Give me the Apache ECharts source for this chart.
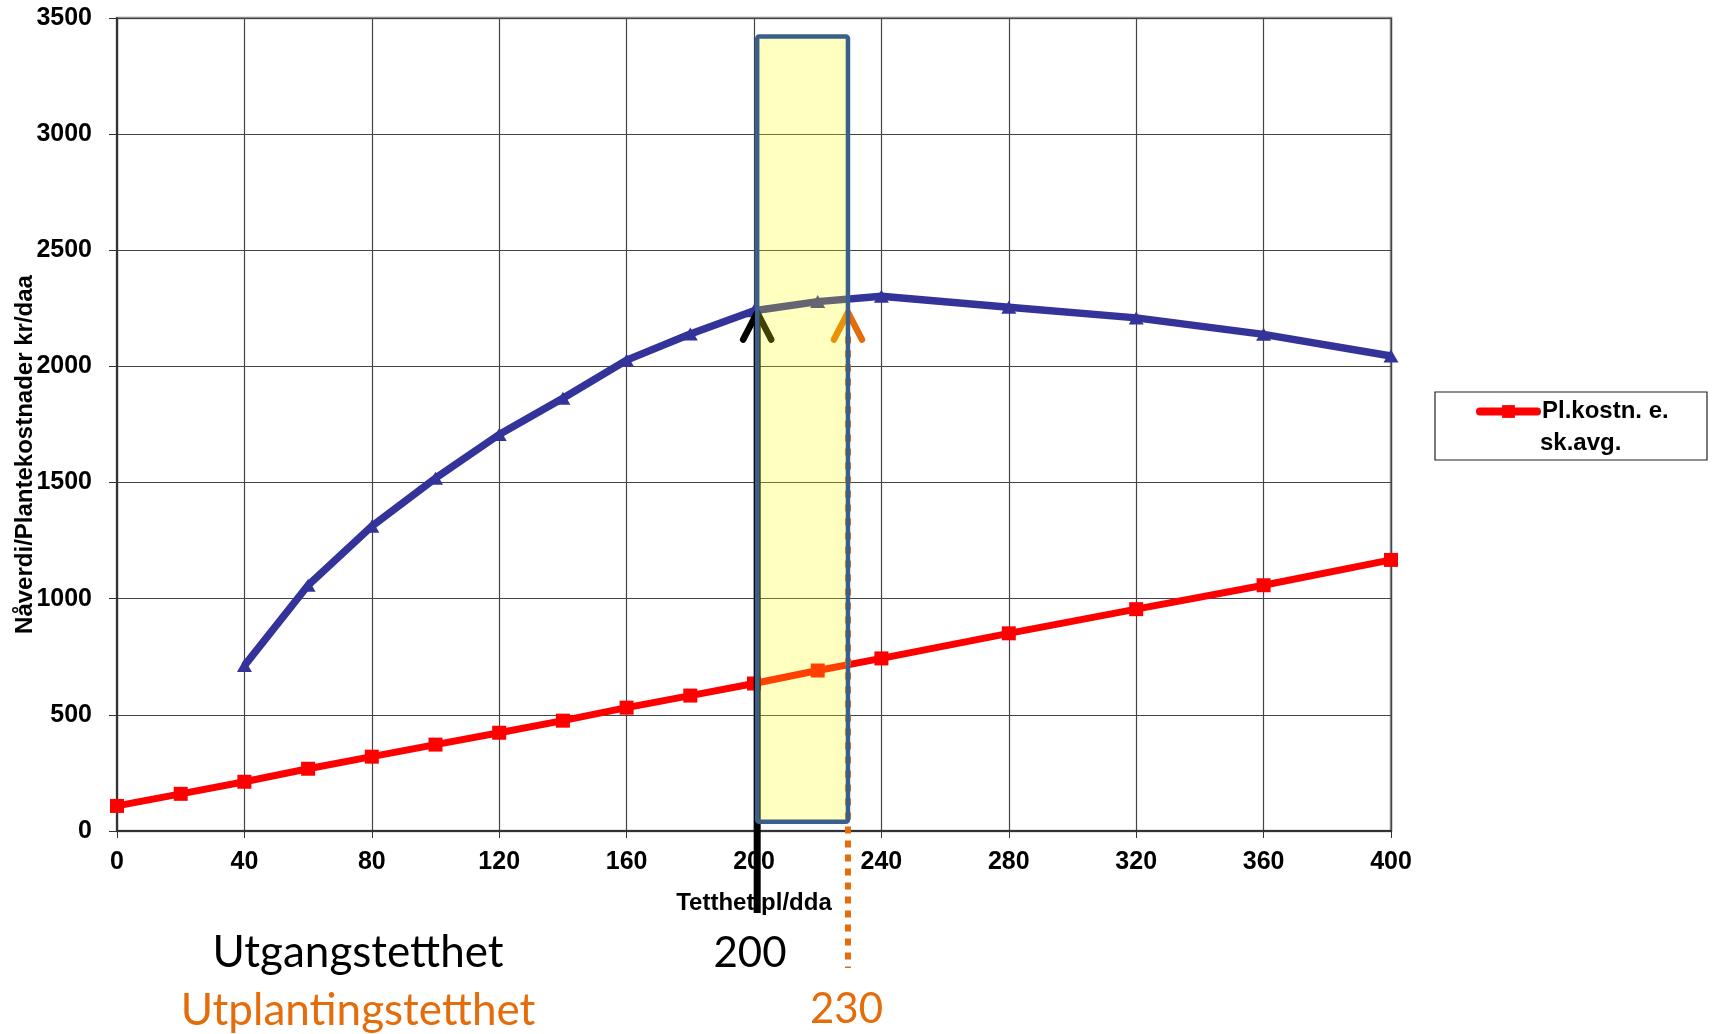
<!DOCTYPE html>
<html><head><meta charset="utf-8">
<script src="https://cdn.jsdelivr.net/npm/echarts@6/dist/echarts.min.js"></script>
<style>html,body{margin:0;padding:0;background:#fff}#c{width:1712px;height:1034px}</style>
</head><body><div id="c"></div>
<script>
// ---- data ----
const xCost = [0,20,40,60,80,100,120,140,160,180,200,220,240,280,320,360,400];
const costValues = [108,160,212,268,320,372,423,475,531,583,635,691,743,851,955,1058,1167];
const xNpv = [40,60,80,100,120,140,160,180,200,220,240,280,320,360,400];
const npvValues = [712,1058,1312,1519,1707,1863,2027,2140,2240,2279,2302,2255,2209,2138,2045];
const costName = 'Pl.kostn. e. sk.avg.';
const costLegendLines = ['Pl.kostn. e.', 'sk.avg.'];
const npvName = 'Nåverdi';
const xName = 'Tetthet pl/dda';
const yName = 'Nåverdi/Plantekostnader kr/daa';
// annotations
const markLabels = ['Utgangstetthet', 'Utplantingstetthet'];
const markValues = [200, 230];
const arrowX = [201, 229.5];
const arrowTip = 2232;
const boxX = [201, 229.5];
const boxY = [40, 3420];

const chart = echarts.init(document.getElementById('c'));
const costData = xCost.map((x, i) => [x, costValues[i]]);
const npvData = xNpv.map((x, i) => [x, npvValues[i]]);
const AX = 'Liberation Sans, Arial, sans-serif';

function renderAnnot(params, api) {
  const base = api.coord([0, 0])[1];
  const b0 = api.coord([boxX[0], boxY[1]]);
  const b1 = api.coord([boxX[1], boxY[0]]);
  const tb = api.coord([arrowX[0], arrowTip]);
  const to = api.coord([arrowX[1], arrowTip]);
  const chev = (p, c) => ({
    type: 'polyline',
    shape: { points: [[p[0] - 14, p[1] + 27], [p[0], p[1]], [p[0] + 14, p[1] + 27]] },
    style: { stroke: c, lineWidth: 6.5, fill: 'none', lineCap: 'round', lineJoin: 'round' }
  });
  const n0 = api.coord([markValues[0], 0])[0];
  const n1 = api.coord([markValues[1], 0])[0];
  return {
    type: 'group',
    children: [
      { type: 'line', shape: { x1: tb[0], y1: tb[1] + 2, x2: tb[0], y2: base + 82 },
        style: { stroke: '#000', lineWidth: 7 } },
      chev(tb, '#000'),
      { type: 'line', shape: { x1: to[0], y1: to[1] + 24, x2: to[0], y2: base + 137 },
        style: { stroke: '#e46c0a', lineWidth: 6, lineDash: [7, 7] } },
      chev(to, '#e46c0a'),
      { type: 'rect', shape: { x: b0[0], y: b0[1], width: b1[0] - b0[0], height: b1[1] - b0[1], r: 2 },
        style: { fill: 'rgba(255,255,0,0.25)', stroke: '#3a5f8b', lineWidth: 4.5 } },
      { type: 'text', x: n0 - 4, y: base + 122,
        style: { text: String(markValues[0]), fill: '#000', font: '42px Lato, sans-serif', align: 'center', verticalAlign: 'middle' } },
      { type: 'text', x: n1 - 3, y: base + 178,
        style: { text: String(markValues[1]), fill: '#e46c0a', font: '42px Lato, sans-serif', align: 'center', verticalAlign: 'middle' } }
    ]
  };
}

chart.setOption({
  animation: false,
  backgroundColor: '#fff',
  grid: { left: 117, right: 321, top: 18, bottom: 203, show: true, borderColor: '#8c8c8c', borderWidth: 2.5,
          backgroundColor: 'transparent', containLabel: false, outerBoundsMode: 'none' },
  legend: {
    data: [costName],
    left: 1476, top: 396, padding: 0,
    itemWidth: 57, itemHeight: 16,
    formatter: () => costLegendLines[0],
    lineStyle: { width: 8, cap: 'round' },
    textStyle: { fontFamily: AX, fontWeight: 'bold', fontSize: 24, lineHeight: 31, color: '#000' },
    selectedMode: false, z: 10
  },
  graphic: [
    { type: 'rect', z: 1, shape: { x: 1435, y: 392, width: 272, height: 68 },
      style: { fill: '#fff', stroke: '#222', lineWidth: 1.2 } },
    { type: 'text', z: 11, x: 1540, y: 443,
      style: { text: costLegendLines[1], fill: '#000', font: 'bold 24px Liberation Sans, Arial, sans-serif', align: 'left', verticalAlign: 'middle' } },
    { type: 'text', z: 1, x: 358, y: 953,
      style: { text: markLabels[0], fill: '#000', font: '44px Lato, sans-serif', align: 'center', verticalAlign: 'middle' } },
    { type: 'text', z: 1, x: 358, y: 1011,
      style: { text: markLabels[1], fill: '#e46c0a', font: '44px Lato, sans-serif', align: 'center', verticalAlign: 'middle' } }
  ],
  xAxis: {
    type: 'value', min: 0, max: 400, interval: 40,
    name: xName, nameLocation: 'middle', nameGap: 60, nameMoveOverlap: false,
    nameTextStyle: { fontFamily: AX, fontWeight: 'bold', fontSize: 24, color: '#000' },
    axisLine: { show: true, lineStyle: { color: '#333', width: 2 } },
    axisTick: { show: true, length: 7, lineStyle: { color: '#333', width: 1 } },
    axisLabel: { fontFamily: AX, fontWeight: 'bold', fontSize: 25, color: '#000', margin: 19 },
    splitLine: { show: true, lineStyle: { color: '#444', width: 1.2 } }
  },
  yAxis: {
    type: 'value', min: 0, max: 3500, interval: 500,
    name: yName, nameLocation: 'middle', nameGap: 80, nameRotate: 90, nameMoveOverlap: false,
    nameTextStyle: { fontFamily: AX, fontWeight: 'bold', fontSize: 24, color: '#000', padding: [0, 60, 0, 0] },
    axisLine: { show: true, lineStyle: { color: '#333', width: 2 } },
    axisTick: { show: true, length: 8, lineStyle: { color: '#333', width: 1 } },
    axisLabel: { fontFamily: AX, fontWeight: 'bold', fontSize: 25, color: '#000', margin: 25,
                 formatter: v => String(v) },
    splitLine: { show: true, lineStyle: { color: '#444', width: 1.2 } }
  },
  series: [
    { name: npvName, type: 'line', data: npvData, z: 2, clip: false,
      lineStyle: { color: '#333399', width: 7.5 }, itemStyle: { color: '#333399' },
      symbol: 'triangle', symbolSize: [15, 13], showAllSymbol: true },
    { name: costName, type: 'line', data: costData, z: 2, clip: false,
      lineStyle: { color: '#ff0000', width: 7, cap: 'round' }, itemStyle: { color: '#ff0000' },
      symbol: 'rect', symbolSize: 14, showAllSymbol: true },
    { name: 'annot', type: 'custom', data: [[200, 0]], z: 5, clip: false, silent: true,
      renderItem: renderAnnot }
  ]
});
</script></body></html>
